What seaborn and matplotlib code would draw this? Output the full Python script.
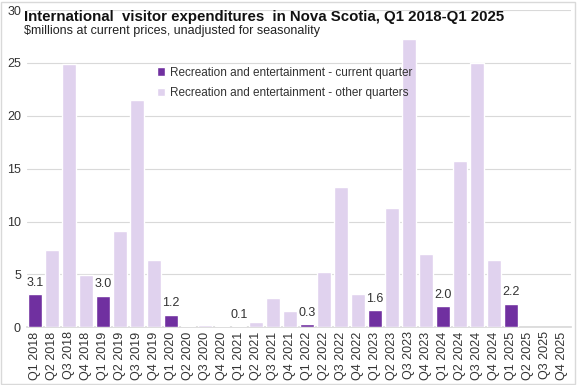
import numpy as np
import pandas as pd
import matplotlib.pyplot as plt
import seaborn as sns

# Data
quarters = [f"Q{q} {y}" for y in range(2018, 2026) for q in range(1, 5)]
values = [3.1, 7.3, 24.9, 4.9,
          3.0, 9.1, 21.5, 6.4,
          1.2, 0.1, 0.2, 0.1,
          0.1, 0.5, 2.8, 1.5,
          0.3, 5.2, 13.3, 3.1,
          1.6, 11.3, 27.3, 6.9,
          2.0, 15.7, 25.0, 6.4,
          2.2, np.nan, np.nan, np.nan]
cur_label = "Recreation and entertainment - current quarter"
oth_label = "Recreation and entertainment - other quarters"
series = [cur_label if q.startswith("Q1") else oth_label for q in quarters]

df = pd.DataFrame({"Quarter": quarters, "Value": values, "Series": series})

sns.set_theme(style="white")
plt.rcParams['font.family'] = ['Liberation Sans', 'DejaVu Sans']

fig = plt.figure(figsize=(5.77, 3.85), dpi=100)
ax = fig.add_axes([0.046, 0.15, 0.943, 0.824])

palette = {cur_label: "#7030A0", oth_label: "#E0D2EE"}
sns.barplot(data=df, x="Quarter", y="Value", hue="Series", order=quarters,
            hue_order=[cur_label, oth_label], palette=palette, dodge=False,
            width=0.82, ax=ax, zorder=3, saturation=1)

# data labels on current-quarter bars
ax.bar_label(ax.containers[0], fmt="%.1f", padding=4, fontsize=9, color="#333333")

ax.set_ylim(0, 30)
ax.set_yticks(range(0, 31, 5))
ax.set_xlim(-0.5, len(quarters) - 0.5)
ax.yaxis.grid(True, color="#D9D9D9", linewidth=0.8, zorder=0)
ax.set_axisbelow(True)
for s in ["top", "right", "left"]:
    ax.spines[s].set_visible(False)
ax.spines["bottom"].set_color("#D9D9D9")
ax.tick_params(axis="y", labelsize=9, colors="#333333", pad=4, length=0)
ax.tick_params(axis="x", labelsize=9, colors="#333333", rotation=90, length=0, pad=3)
ax.set_xlabel("")
ax.set_ylabel("")

ax.legend(loc="upper left", bbox_to_anchor=(0.22, 0.855), frameon=False, fontsize=8.5,
          handlelength=0.7, handleheight=0.7, handletextpad=0.4, labelspacing=0.75,
          labelcolor="#333333")

fig.text(0.042, 0.975, "International  visitor expenditures  in Nova Scotia, Q1 2018-Q1 2025",
         fontsize=10.8, fontweight="bold", va="top", color="#111111")
fig.text(0.042, 0.935, "$millions at current prices, unadjusted for seasonality",
         fontsize=9, va="top", color="#222222")

fig.patches.append(plt.Rectangle((0.002, 0.003), 0.995, 0.993, transform=fig.transFigure,
                                 fill=False, edgecolor="#D9D9D9", linewidth=1))

fig.savefig("out.png", dpi=100)
